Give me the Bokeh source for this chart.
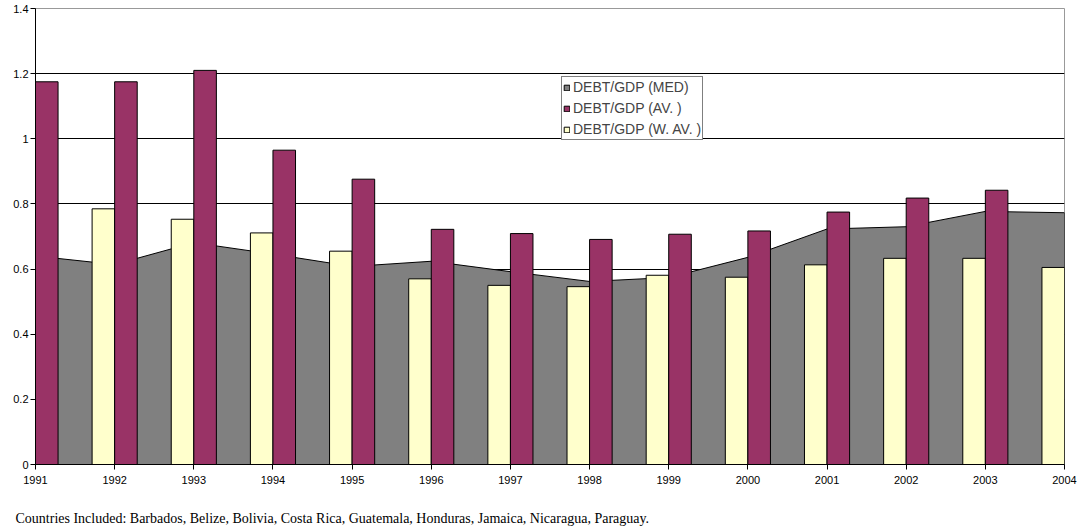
from bokeh.plotting import figure
from bokeh.models import ColumnDataSource, Range1d, FixedTicker, Legend, LegendItem, Title
from bokeh.transform import dodge
from bokeh.embed import file_html
from bokeh.resources import INLINE

nan = float("nan")

years = [1991, 1992, 1993, 1994, 1995, 1996, 1997, 1998, 1999, 2000, 2001, 2002, 2003, 2004]
debt_gdp_med = [0.640, 0.614, 0.681, 0.646, 0.608, 0.624, 0.592, 0.562, 0.574, 0.636, 0.723, 0.730, 0.777, 0.773]
debt_gdp_av = [1.175, 1.175, 1.210, 0.965, 0.876, 0.722, 0.709, 0.691, 0.707, 0.717, 0.775, 0.818, 0.842, nan]
debt_gdp_wav = [nan, 0.785, 0.753, 0.711, 0.655, 0.570, 0.550, 0.546, 0.581, 0.575, 0.613, 0.633, 0.633, 0.605]

series_names = ["DEBT/GDP (MED)", "DEBT/GDP (AV. )", "DEBT/GDP (W. AV. )"]
y_ticks = [0, 0.2, 0.4, 0.6, 0.8, 1.0, 1.2, 1.4]
y_tick_labels = ["0", "0.2", "0.4", "0.6", "0.8", "1", "1.2", "1.4"]
footer = "Countries Included: Barbados, Belize, Bolivia, Costa Rica, Guatemala, Honduras, Jamaica, Nicaragua, Paraguay."

GRAY = "#808080"
PURPLE = "#993366"
YELLOW = "#FFFFCC"
FONT = "Liberation Sans"

p = figure(width=1081, height=529, output_backend="svg", toolbar_location=None,
           x_range=Range1d(years[0], years[-1]), y_range=Range1d(0, 1.4),
           min_border_left=35, min_border_right=17, min_border_top=8, min_border_bottom=64)
p.outline_line_color = "#999999"
p.outline_line_width = 1
p.background_fill_color = "white"
p.border_fill_color = "white"

src = ColumnDataSource(dict(year=years, med=debt_gdp_med, av=debt_gdp_av, wav=debt_gdp_wav))

# area (median) as a closed polygon built from the data
area_x = years + [years[-1], years[0]]
area_y = debt_gdp_med + [0, 0]
r_med = p.patch(area_x, area_y, fill_color=GRAY, line_color="black", line_width=1)

bar_w = 0.285
r_wav = p.vbar(x=dodge("year", -bar_w / 2, range=p.x_range), top="wav", width=bar_w, source=src,
               fill_color=YELLOW, line_color="black", line_width=1)
r_av = p.vbar(x=dodge("year", bar_w / 2, range=p.x_range), top="av", width=bar_w, source=src,
              fill_color=PURPLE, line_color="black", line_width=1)

# axes
p.xaxis.ticker = FixedTicker(ticks=years)
p.yaxis.ticker = FixedTicker(ticks=y_ticks)
p.yaxis.major_label_overrides = {t: l for t, l in zip(y_ticks, y_tick_labels)}
for ax in (p.xaxis[0], p.yaxis[0]):
    ax.axis_line_color = "black"
    ax.axis_line_width = 1
    ax.major_tick_line_color = "black"
    ax.major_tick_out = 5
    ax.major_tick_in = 0
    ax.minor_tick_line_color = None
    ax.major_label_text_font = FONT
    ax.major_label_text_font_size = "11px"
    ax.major_label_text_color = "black"
p.yaxis.major_label_standoff = 2
p.xaxis.major_label_standoff = 6

p.xgrid.grid_line_color = None
p.ygrid.ticker = FixedTicker(ticks=y_ticks[1:-1])
p.ygrid.grid_line_color = "black"
p.ygrid.grid_line_width = 1
p.ygrid.level = "underlay"

legend = Legend(items=[LegendItem(label=series_names[0], renderers=[r_med]),
                       LegendItem(label=series_names[1], renderers=[r_av]),
                       LegendItem(label=series_names[2], renderers=[r_wav])],
                location=(526, 324))
legend.border_line_color = "black"
legend.border_line_width = 1
legend.background_fill_color = "white"
legend.background_fill_alpha = 1
legend.padding = 1
legend.spacing = 3
legend.margin = 0
legend.label_height = 18
legend.glyph_height = 7
legend.glyph_width = 7
legend.label_standoff = 3
legend.label_text_font = FONT
legend.label_text_font_size = "14px"
legend.label_text_baseline = "middle"
p.add_layout(legend)

# spacer between axis labels and footnote
p.add_layout(Title(text=" ", text_font_size="2px", standoff=14), "below")
p.add_layout(Title(text=footer, align="left", vertical_align="bottom", offset=-20, standoff=8,
                   text_font="Liberation Serif", text_font_size="14px",
                   text_font_style="normal", text_color="black"), "below")

open("out.html", "w").write(file_html(p, INLINE))
